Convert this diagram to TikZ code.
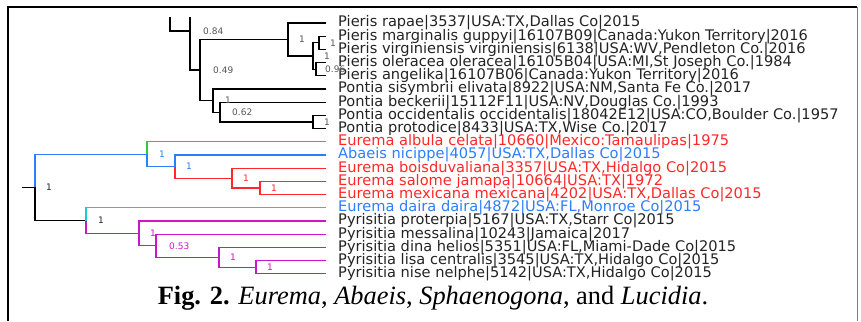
\documentclass[tikz,border=0pt]{standalone}
\usepackage{fontspec}
\setmainfont{Liberation Serif}
\newfontfamily\treefont{DejaVu Sans}
\usetikzlibrary{positioning}

\definecolor{tipred}{RGB}{255,40,40}
\definecolor{tipblue}{RGB}{45,125,255}
\definecolor{tipgreen}{RGB}{50,200,60}
\definecolor{tipcyan}{RGB}{30,200,205}
\definecolor{tipmag}{RGB}{205,20,205}
\definecolor{tipdark}{RGB}{35,35,35}
\definecolor{suppgray}{RGB}{85,85,85}

\begin{document}
\begin{tikzpicture}[x=1pt,y=-1pt,
  branch/.style={line width=1.05pt},
  leaf/.style={font=\treefont\fontsize{14.6}{15}\selectfont,inner sep=0pt,anchor=west,text=tipdark},
  supp/.style={font=\treefont\fontsize{9}{10}\selectfont,inner sep=0pt,text=suppgray}]

  \useasboundingbox (0,0) rectangle (861,321);
  \draw[line width=2.4pt] (8,321) -- (8,7) -- (857,7);
  \draw[gray,line width=1pt] (857,7) -- (857,321);

  % leaf tips
  \coordinate (t0) at (326,23);
  \coordinate (t1) at (326,36.2);
  \coordinate (t2) at (326,49.4);
  \coordinate (t3) at (326,62.6);
  \coordinate (t4) at (326,75.8);
  \coordinate (t5) at (326,89);
  \coordinate (t6) at (326,102.2);
  \coordinate (t7) at (326,115.4);
  \coordinate (t8) at (326,128.6);
  \coordinate (t9) at (326,141.8);
  \coordinate (t10) at (326,155);
  \coordinate (t11) at (326,168.2);
  \coordinate (t12) at (326,181.4);
  \coordinate (t13) at (326,194.6);
  \coordinate (t14) at (326,207.8);
  \coordinate (t15) at (326,221);
  \coordinate (t16) at (326,234.2);
  \coordinate (t17) at (326,247.4);
  \coordinate (t18) at (326,260.6);
  \coordinate (t19) at (326,273.8);

  \node[leaf,right=12pt of t0] (rapae) {Pieris rapae|3537|USA:TX,Dallas Co|2015};
  \node[leaf,right=12pt of t1] (marginalis) {Pieris marginalis guppyi|16107B09|Canada:Yukon Territory|2016};
  \node[leaf,right=12pt of t2] (virginiensis) {Pieris virginiensis virginiensis|6138|USA:WV,Pendleton Co.|2016};
  \node[leaf,right=12pt of t3] (oleracea) {Pieris oleracea oleracea|16105B04|USA:MI,St Joseph Co.|1984};
  \node[leaf,right=12pt of t4] (angelika) {Pieris angelika|16107B06|Canada:Yukon Territory|2016};
  \node[leaf,right=12pt of t5] (sisymbrii) {Pontia sisymbrii elivata|8922|USA:NM,Santa Fe Co.|2017};
  \node[leaf,right=12pt of t6] (beckerii) {Pontia beckerii|15112F11|USA:NV,Douglas Co.|1993};
  \node[leaf,right=12pt of t7] (occidentalis) {Pontia occidentalis occidentalis|18042E12|USA:CO,Boulder Co.|1957};
  \node[leaf,right=12pt of t8] (protodice) {Pontia protodice|8433|USA:TX,Wise Co.|2017};
  \node[leaf,right=12pt of t9,text=tipred] (albula) {Eurema albula celata|10660|Mexico:Tamaulipas|1975};
  \node[leaf,right=12pt of t10,text=tipblue] (nicippe) {Abaeis nicippe|4057|USA:TX,Dallas Co|2015};
  \node[leaf,right=12pt of t11,text=tipred] (boisduvaliana) {Eurema boisduvaliana|3357|USA:TX,Hidalgo Co|2015};
  \node[leaf,right=12pt of t12,text=tipred] (salome) {Eurema salome jamapa|10664|USA:TX|1972};
  \node[leaf,right=12pt of t13,text=tipred] (mexicana) {Eurema mexicana mexicana|4202|USA:TX,Dallas Co|2015};
  \node[leaf,right=12pt of t14,text=tipblue] (daira) {Eurema daira daira|4872|USA:FL,Monroe Co|2015};
  \node[leaf,right=12pt of t15] (proterpia) {Pyrisitia proterpia|5167|USA:TX,Starr Co|2015};
  \node[leaf,right=12pt of t16] (messalina) {Pyrisitia messalina|10243|Jamaica|2017};
  \node[leaf,right=12pt of t17] (dina) {Pyrisitia dina helios|5351|USA:FL,Miami-Dade Co|2015};
  \node[leaf,right=12pt of t18] (lisa) {Pyrisitia lisa centralis|3545|USA:TX,Hidalgo Co|2015};
  \node[leaf,right=12pt of t19] (nise) {Pyrisitia nise nelphe|5142|USA:TX,Hidalgo Co|2015};

  % Pieris / Pontia
  \coordinate (up1) at (170,17);
  \coordinate (up2) at (190,17);
  \coordinate (n190) at (190,31);
  \coordinate (n200) at (200,70);
  \coordinate (pieris) at (288,39.5);
  \coordinate (pmo) at (313,56);
  \coordinate (pm) at (319,42.8);
  \coordinate (po) at (316,69.2);
  \coordinate (pontia) at (213,100.5);
  \coordinate (pbk) at (220,112.1);
  \coordinate (poc) at (313,122);

  \draw[branch] (up1) |- (n190);
  \draw[branch] (up2) |- (n200);
  \draw[branch] (n200) |- (pieris);
  \draw[branch] (n200) |- (pontia);
  \draw[branch] (pieris) |- (t0);
  \draw[branch] (pieris) |- (pmo);
  \draw[branch] (pmo) |- (pm);
  \draw[branch] (pmo) |- (po);
  \draw[branch] (pm) |- (t1);
  \draw[branch] (pm) |- (t2);
  \draw[branch] (po) |- (t3);
  \draw[branch] (po) |- (t4);
  \draw[branch] (pontia) |- (t5);
  \draw[branch] (pontia) |- (pbk);
  \draw[branch] (pbk) |- (t6);
  \draw[branch] (pbk) |- (poc);
  \draw[branch] (poc) |- (t7);
  \draw[branch] (poc) |- (t8);

  \node[supp,right=13pt of n190] (s190) {0.84};
  \node[supp,right=13pt of n200] (s200) {0.49};
  \node[supp,right=11pt of pieris] (spieris) {1};
  \node[supp,right=11pt of pm] (spm) {1};
  \node[supp,right=11pt of pmo] (spmo) {1};
  \node[supp,right=9pt of po] (spo) {0.96};
  \node[supp,right=12pt of pontia] (spontia) {1};
  \node[supp,right=12pt of pbk] (spbk) {0.62};
  \node[supp,right=11pt of poc] (spoc) {1};

  % Eurema / Abaeis / Pyrisitia
  \coordinate (stub) at (22,187.4);
  \coordinate (root) at (35,187.4);
  \coordinate (eur) at (147,154.2);
  \coordinate (aba) at (175,166.5);
  \coordinate (eb) at (232,178.1);
  \coordinate (es) at (260,188);
  \coordinate (pyr) at (86,220.6);
  \coordinate (py1) at (139,233.4);
  \coordinate (py2) at (156,245.8);
  \coordinate (py3) at (219,257.3);
  \coordinate (py4) at (256,267.2);

  \draw[branch] (stub) -- (root);
  \draw[branch,tipblue] (root) |- (eur);
  \draw[branch] (root) |- (pyr);
  \draw[branch,tipgreen] (eur) |- (t9);
  \draw[branch,tipblue] (eur) |- (aba);
  \draw[branch,tipblue] (aba) |- (t10);
  \draw[branch,tipred] (aba) |- (eb);
  \draw[branch,tipred] (eb) |- (t11);
  \draw[branch,tipred] (eb) |- (es);
  \draw[branch,tipred] (es) |- (t12);
  \draw[branch,tipred] (es) |- (t13);
  \draw[branch,tipcyan] (pyr) |- (t14);
  \draw[branch,tipmag] (pyr) |- (py1);
  \draw[branch,tipmag] (py1) |- (t15);
  \draw[branch,tipmag] (py1) |- (py2);
  \draw[branch,tipmag] (py2) |- (t16);
  \draw[branch,tipmag] (py2) |- (py3);
  \draw[branch,tipmag] (py3) |- (t17);
  \draw[branch,tipmag] (py3) |- (py4);
  \draw[branch,tipmag] (py4) |- (t18);
  \draw[branch,tipmag] (py4) |- (t19);

  \node[supp,right=11pt of root,text=tipdark] (sroot) {1};
  \node[supp,right=12pt of eur,text=tipblue] (seur) {1};
  \node[supp,right=11pt of aba,text=tipblue] (saba) {1};
  \node[supp,right=11pt of eb,text=tipred] (seb) {1};
  \node[supp,right=11pt of es,text=tipred] (ses) {1};
  \node[supp,right=12pt of pyr,text=tipdark] (spyr) {1};
  \node[supp,right=11pt of py1,text=tipmag] (spy1) {1};
  \node[supp,right=13pt of py2,text=tipmag] (spy2) {0.53};
  \node[supp,right=11pt of py3,text=tipmag] (spy3) {1};
  \node[supp,right=11pt of py4,text=tipmag] (spy4) {1};

  \node[font=\fontsize{26.4}{30}\selectfont] (caption) at (433,298)
    {\textbf{Fig. 2.} \textit{Eurema}, \textit{Abaeis}, \textit{Sphaenogona}, and \textit{Lucidia}.};
\end{tikzpicture}
\end{document}
